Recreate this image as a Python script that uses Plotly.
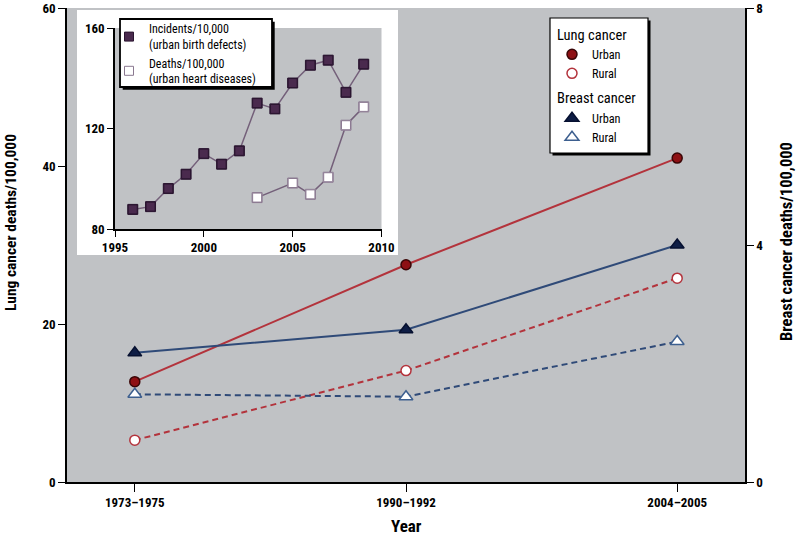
import plotly.graph_objects as go

# ---- data ----
periods = ["1973–1975", "1990–1992", "2004–2005"]
lung_urban = [12.7, 27.5, 41.0]
lung_rural = [5.3, 14.1, 25.8]
breast_urban = [2.18, 2.57, 4.0]
breast_rural = [1.48, 1.44, 2.37]

inset_years_inc = [1996, 1997, 1998, 1999, 2000, 2001, 2002, 2003, 2004, 2005, 2006, 2007, 2008, 2009]
incidents = [87.8, 88.9, 96.1, 101.8, 110.0, 105.8, 111.1, 130.1, 127.8, 138.1, 145.2, 147.2, 134.4, 145.6]
inset_years_dth = [2003, 2005, 2006, 2007, 2008, 2009]
deaths = [92.5, 98.3, 93.8, 100.6, 121.3, 128.6]

left_ticks = [0, 20, 40, 60]
right_ticks = [0, 4, 8]
inset_xticks = [1995, 2000, 2005, 2010]
inset_yticks = [80, 120, 160]

FONT = "Liberation Sans Narrow, Roboto Condensed, DejaVu Sans Condensed, Arial Narrow, sans-serif"
RED_LINE = "#b3333c"
RED_FILL = "#8e1014"
BLUE_LINE = "#2f4a78"
BLUE_FILL = "#0e1d45"
PURP_FILL = "#4a2a4e"
PURP_LINE = "#74607a"
GRAY = "#c0c2c5"

W, H = 800, 538
L, R, T, B = 67, 55, 8, 56
PW, PH = W - L - R, H - T - B

def px(x):  # pixel -> paper x
    return (x - L) / PW

def py(y):  # pixel -> paper y
    return (H - B - y) / PH

xi = list(range(len(periods)))

fig = go.Figure()

def add_series(y, yaxis, color, dash, symbol, fill, mline, size, name, group, gtitle):
    fig.add_trace(go.Scatter(x=xi, y=y, yaxis=yaxis, mode="lines",
                             line=dict(color=color, width=2, dash=dash),
                             showlegend=False, hoverinfo="skip"))
    fig.add_trace(go.Scatter(x=xi, y=y, yaxis=yaxis, mode="markers", name=name,
                             legendgroup=group, legendgrouptitle=dict(text=gtitle),
                             marker=dict(symbol=symbol, size=size, color=fill,
                                         line=dict(color=mline, width=1.5))))

add_series(lung_urban, "y", RED_LINE, "solid", "circle", RED_FILL, "#3a0506", 10, "Urban", "lung", "Lung cancer")
add_series(lung_rural, "y", RED_LINE, "6px,4px", "circle", "white", RED_LINE, 10, "Rural", "lung", "Lung cancer")
add_series(breast_urban, "y2", BLUE_LINE, "solid", "triangle-up", BLUE_FILL, "#061030", 12, "Urban", "breast", "Breast cancer")
add_series(breast_rural, "y2", BLUE_LINE, "6px,4px", "triangle-up", "white", "#3d5f8f", 12, "Rural", "breast", "Breast cancer")

# inset
fig.add_trace(go.Scatter(x=inset_years_inc, y=incidents, xaxis="x3", yaxis="y3", mode="lines+markers",
                         line=dict(color=PURP_LINE, width=1.5), showlegend=False,
                         marker=dict(symbol="square", size=10, color=PURP_FILL, line=dict(color="#2a1530", width=1))))
fig.add_trace(go.Scatter(x=inset_years_dth, y=deaths, xaxis="x3", yaxis="y3", mode="lines+markers",
                         line=dict(color=PURP_LINE, width=1.5), showlegend=False,
                         marker=dict(symbol="square", size=10, color="white", line=dict(color="#8a7890", width=1))))
fig.add_trace(go.Scatter(x=inset_years_inc, y=incidents, xaxis="x3", yaxis="y3", mode="markers",
                         name="Incidents/10,000<br>(urban birth defects)", legend="legend2",
                         marker=dict(symbol="square", size=9, color=PURP_FILL, line=dict(color="#2a1530", width=1))))
fig.add_trace(go.Scatter(x=inset_years_dth, y=deaths, xaxis="x3", yaxis="y3", mode="markers",
                         name="Deaths/100,000<br>(urban heart diseases)", legend="legend2",
                         marker=dict(symbol="square", size=9, color="white", line=dict(color="#8a7890", width=1))))

tickfont = dict(family=FONT, size=13, color="black", weight="bold")
common = dict(showgrid=False, zeroline=False, showline=True, linecolor="black", linewidth=1.5,
              ticks="outside", tickcolor="black", tickfont=tickfont, automargin=False)

fig.update_layout(
    width=W, height=H,
    margin=dict(l=L, r=R, t=T, b=B, autoexpand=False),
    paper_bgcolor="white", plot_bgcolor=GRAY,
    font=dict(family=FONT, color="black"),
    xaxis=dict(range=[-0.25, 2.25], tickvals=xi, ticktext=periods, ticklen=8, **common),
    yaxis=dict(range=[0, 60], tickvals=left_ticks, ticklen=7, **common),
    yaxis2=dict(range=[0, 8], tickvals=right_ticks, overlaying="y", side="right", ticklen=7, **common),
    xaxis3=dict(domain=[px(115), px(381.5)], anchor="y3", range=[1995, 2010], tickvals=inset_xticks,
                ticklen=6, **common),
    yaxis3=dict(domain=[py(229), py(28)], anchor="x3", range=[80, 160], tickvals=inset_yticks,
                ticklen=6, **common),
    legend=dict(x=px(552), y=py(18), xanchor="left", yanchor="top", bgcolor="rgba(0,0,0,0)",
                borderwidth=0, traceorder="grouped", tracegroupgap=4,
                font=dict(family=FONT, size=12.3), grouptitlefont=dict(family=FONT, size=14.5)),
    legend2=dict(x=px(109), y=py(14.5), xanchor="left", yanchor="top", bgcolor="rgba(0,0,0,0)",
                 borderwidth=0, font=dict(family=FONT, size=12)),
    showlegend=True,
)

# white inset box behind inset plot
fig.add_shape(type="rect", xref="paper", yref="paper", x0=px(77), x1=px(398), y0=py(255), y1=py(10),
              fillcolor="white", line=dict(width=0), layer="below")

# legend boxes with drop shadows
def legend_box(x0, y0, x1, y1, lw, off):
    fig.add_shape(type="rect", xref="paper", yref="paper", x0=px(x0 + off), x1=px(x1 + off),
                  y0=py(y1 + off), y1=py(y0 + off), fillcolor="black", line=dict(width=0), layer="above")
    fig.add_shape(type="rect", xref="paper", yref="paper", x0=px(x0), x1=px(x1),
                  y0=py(y1), y1=py(y0), fillcolor="white", line=dict(color="black", width=lw), layer="above")

legend_box(550, 18, 648, 153, 1.2, 2.5)
legend_box(120, 19, 272, 87, 1.8, 2.7)

# axis titles
fig.add_annotation(text="<b>Lung cancer deaths/100,000</b>", xref="paper", yref="paper",
                   x=px(11), y=py(223), xanchor="center", yanchor="middle", textangle=-90, showarrow=False,
                   font=dict(family=FONT, size=15.5))
fig.add_annotation(text="<b>Breast cancer deaths/100,000</b>", xref="paper", yref="paper",
                   x=px(787), y=py(242), xanchor="center", yanchor="middle", textangle=-90, showarrow=False,
                   font=dict(family=FONT, size=16.5))
fig.add_annotation(text="<b>Year</b>", xref="paper", yref="paper",
                   x=0.5, y=py(526), xanchor="center", yanchor="middle", showarrow=False,
                   font=dict(family=FONT, size=17))

fig.write_html("out.html", config={"displayModeBar": False},
               post_script="document.body.style.margin='0';document.body.style.overflow='hidden';")
